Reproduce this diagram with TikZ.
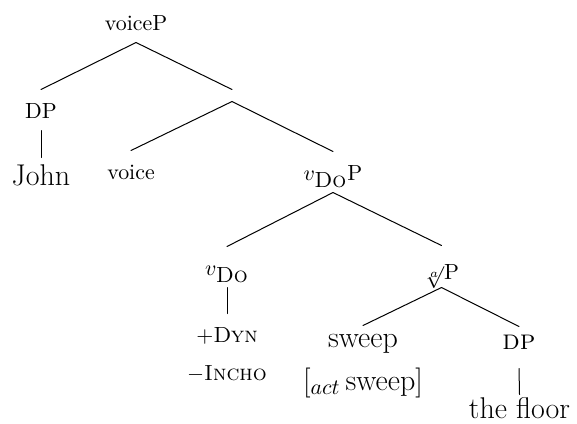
\documentclass[tikz,border=0pt,11pt]{standalone}

\begin{document}
\begin{tikzpicture}[x=0.5pt,y=-0.5pt,line width=0.5pt,line cap=round]
	\tikzstyle{lbl}=[inner sep=0pt,anchor=base,text height=14pt,text depth=6pt];
	\tikzstyle{leaf}=[inner sep=0pt,anchor=base,font=\fontsize{15}{18}\selectfont];
	\tikzstyle{bar}=[inner sep=0pt,minimum height=5.5pt];
	\useasboundingbox (0,0) rectangle (577,423);

	% labels, placed on their baselines
	\node[lbl] (voiceP) at (136,30)  {voiceP};
	\node[lbl] (dpSubj) at (41,118)  {DP};
	\node[leaf,text height=13.5pt] (john) at (41,185) {John};
	\node[bar] (voiceBar) at (232,95.5) {};
	\node[lbl] (voice)  at (131,179) {voice};
	\node[lbl] (vDoP)   at (333,180) {$v_{\textsc{Do}}$P};
	\node[lbl] (vDo)    at (227,275) {$v_{\textsc{Do}}$};
	\node[lbl] (dyn)    at (227,342) {+\textsc{Dyn}};
	\node[lbl] (incho)  at (227,380) {$-$\textsc{Incho}};
	\node[lbl,text height=16.5pt,text depth=4pt] (rootP) at (441.5,279) {$\sqrt[a]{}$P};
	\node[leaf,text height=10.5pt] (sweep) at (363,347) {sweep};
	\node[leaf] (act) at (363,390) {[$_{act}$\,sweep]};
	\node[lbl,font=\fontsize{14}{17}\selectfont,text height=11pt,text depth=9.5pt] (dpObj) at (519,349) {\textsc{dp}};
	\node[leaf,text height=11.5pt] (floor) at (519.5,418) {the floor};

	% branches
	\draw (voiceP.south)   -- (dpSubj.north);
	\draw (voiceP.south)   -- (voiceBar.north);
	\draw (dpSubj.south)   -- (john.north);
	\draw (voiceBar.south) -- (voice.north);
	\draw (voiceBar.south) -- (vDoP.north);
	\draw (vDoP.south)     -- (vDo.north);
	\draw (vDoP.south)     -- (rootP.north);
	\draw (vDo.south)      -- (dyn.north);
	\draw (rootP.south)    -- (sweep.north);
	\draw (rootP.south)    -- (dpObj.north);
	\draw (dpObj.south)    -- (floor.north);
\end{tikzpicture}
\end{document}
